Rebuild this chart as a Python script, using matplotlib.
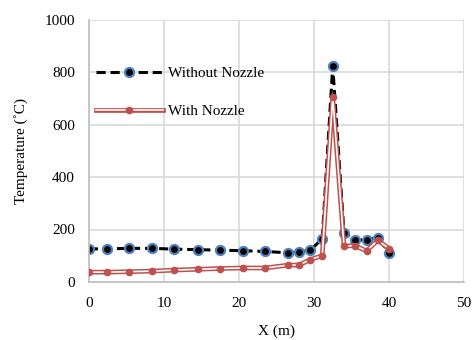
import matplotlib.pyplot as plt
from matplotlib.lines import Line2D

plt.rcParams['font.family'] = ['Liberation Serif', 'DejaVu Serif']

x_pos = [0, 2.4, 5.4, 8.4, 11.4, 14.5, 17.5, 20.5, 23.5, 26.6, 28.0, 29.5,
         31.1, 32.5, 34.0, 35.5, 37.0, 38.5, 40.0]
without_nozzle = [126, 126, 128, 128, 125, 123, 121, 119, 116, 111, 114, 120,
                  165, 825, 188, 159, 161, 169, 112]
with_nozzle = [37, 37, 39, 41, 45, 48, 51, 53, 53, 64, 64, 85,
               100, 705, 137, 138, 118, 159, 127]

fig = plt.figure(figsize=(4.75, 3.4), dpi=100)
ax = fig.add_axes([0.187, 0.171, 0.79, 0.77])

# with nozzle: red double line (red outline, white core)
ax.plot(x_pos, with_nozzle, color='#C0504D', lw=3.4, zorder=3)
ax.plot(x_pos, with_nozzle, color='white', lw=1.2, zorder=4)
ax.plot(x_pos, with_nozzle, ls='none', marker='o', ms=4.5,
        color='#C0504D', zorder=5)

# without nozzle: black dashed with blue-edged markers
ax.plot(x_pos, without_nozzle, color='black', lw=2.2, ls=(0, (3, 1.6)),
        marker='o', ms=6.5, mfc='black', mec='#4F81BD', mew=1.6, zorder=2)

ax.set_xlim(0, 50)
ax.set_ylim(0, 1000)
ax.set_xticks(range(0, 51, 10))
ax.set_yticks(range(0, 1001, 200))
ax.grid(color='#D9D9D9', lw=1.2)
ax.set_axisbelow(True)
for s in ['top', 'right']:
    ax.spines[s].set_visible(False)
for s in ['left', 'bottom']:
    ax.spines[s].set_color('#BFBFBF')
    ax.spines[s].set_linewidth(1.2)
ax.tick_params(axis='y', length=0, labelsize=11, pad=10)
ax.tick_params(axis='x', length=0, labelsize=11, pad=11)
ax.set_xlabel('X (m)', fontsize=11, labelpad=10)
ax.set_ylabel('Temperature (˚C)', fontsize=11, labelpad=12)

h1 = Line2D([], [], color='black', lw=2.2, ls=(0, (3, 1.6)), marker='o',
            ms=6.5, mfc='black', mec='#4F81BD', mew=1.6)
h2a = Line2D([], [], color='#C0504D', lw=3.4)
h2b = Line2D([], [], color='white', lw=1.2, marker='o', ms=4.5,
             mfc='#C0504D', mec='#C0504D')
ax.legend([h1, (h2a, h2b)], ['Without Nozzle', 'With Nozzle'],
          loc='upper left', bbox_to_anchor=(-0.01, 0.863), frameon=False,
          fontsize=11, handlelength=4.4, labelspacing=1.6,
          handletextpad=0.3, borderaxespad=0.3)

fig.savefig('out.png', dpi=100)
